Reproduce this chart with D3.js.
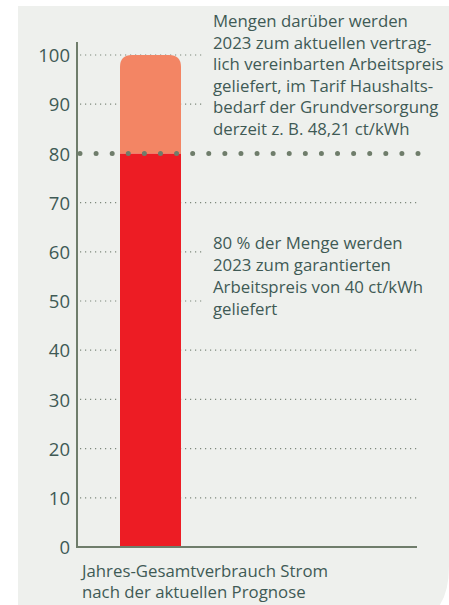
<!DOCTYPE html>
<html>
<head>
<meta charset="utf-8">
<script src="https://cdn.jsdelivr.net/npm/d3@7"></script>
<style>
  body { margin: 0; background: #fff; }
  svg { display: block; font-family: "Open Sans", "Noto Sans", sans-serif; }
</style>
</head>
<body>
<svg></svg>
<script>
var width = 449;
var height = 605;

// data
var categories = ["Jahres-Gesamtverbrauch Strom"];
var garantiert = [80];   // Anteil zum garantierten Arbeitspreis
var darueber = [20];     // Mengen darueber
var tickValues = [0, 10, 20, 30, 40, 50, 60, 70, 80, 90, 100];
var fullGrid = [10, 20, 30, 40, 70];   // Linien bis zum rechten Rand
var shortGrid = [50, 60, 90, 100];     // Linien enden vor dem Text
var noteTop = ["Mengen darüber werden", "2023 zum aktuellen vertrag-", "lich vereinbarten Arbeitspreis",
  "geliefert, im Tarif Haushalts-", "bedarf der Grundversorgung", "derzeit z. B. 48,21 ct/kWh"];
var noteMid = ["80 % der Menge werden", "2023 zum garantierten", "Arbeitspreis von 40 ct/kWh", "geliefert"];
var xLabel = ["Jahres-Gesamtverbrauch Strom", "nach der aktuellen Prognose"];

var textColor = "#3f5a55";
var axisColor = "#6f7d6b";

var svg = d3.select("svg")
    .attr("width", width)
    .attr("height", height);

// panel background, only the bottom right corner is rounded
svg.append("path")
    .attr("d", "M18,6H449V566Q449,598 434,612H18Z")
    .attr("fill", "#eef0ed");

var left = 77, right = 417, bottom = 547;

var yScale = d3.scaleLinear()
    .domain([0, 100])
    .range([bottom, bottom - 492]);

var xScale = d3.scaleBand()
    .domain(categories)
    .range([left, 224])
    .paddingInner(0)
    .paddingOuter(0.705);

// grid lines
svg.selectAll(".grid")
    .data(fullGrid.map(d => ({v: d, x2: 418})).concat(shortGrid.map(d => ({v: d, x2: 205}))))
    .enter()
    .append("line")
        .attr("x1", left + 3)
        .attr("x2", d => d.x2)
        .attr("y1", d => yScale(d.v))
        .attr("y2", d => yScale(d.v))
        .attr("stroke", "#7d887c")
        .attr("stroke-width", 1.2)
        .attr("stroke-dasharray", "1.2 3.8");

// bars
var bw = xScale.bandwidth();
var r = 12;
svg.selectAll(".bar-low")
    .data(categories)
    .enter()
    .append("rect")
        .attr("x", d => xScale(d))
        .attr("y", (d, i) => yScale(garantiert[i]))
        .attr("width", bw)
        .attr("height", (d, i) => yScale(0) - yScale(garantiert[i]))
        .attr("fill", "#ed1c24");

svg.selectAll(".bar-high")
    .data(categories)
    .enter()
    .append("path")
        .attr("fill", "#f38564")
        .attr("d", (d, i) => {
            var x0 = xScale(d), x1 = x0 + bw;
            var yb = yScale(garantiert[i]);
            var yt = yScale(garantiert[i] + darueber[i]);
            return "M" + x0 + "," + yb + "V" + (yt + r) + "Q" + x0 + "," + yt + " " + (x0 + r) + "," + yt +
                "H" + (x1 - r) + "Q" + x1 + "," + yt + " " + x1 + "," + (yt + r) + "V" + yb + "Z";
        });

// 80 % line with big dots
svg.append("line")
    .attr("x1", 80)
    .attr("x2", 419)
    .attr("y1", yScale(80))
    .attr("y2", yScale(80))
    .attr("stroke", axisColor)
    .attr("stroke-width", 5)
    .attr("stroke-linecap", "round")
    .attr("stroke-dasharray", "0 16.095");

// y axis
var yAxis = d3.axisLeft(yScale)
    .tickValues(tickValues)
    .tickSize(0)
    .tickPadding(7);

var gy = svg.append("g")
    .attr("transform", "translate(" + left + ",0)")
    .call(yAxis);
gy.select(".domain").remove();
gy.selectAll("text")
    .attr("fill", textColor)
    .attr("dy", "0.36em")
    .style("font-size", "18.5px")
    .style("font-family", "'Open Sans', sans-serif");

svg.append("line")
    .attr("x1", left).attr("x2", left)
    .attr("y1", 42).attr("y2", bottom + 1)
    .attr("stroke", axisColor)
    .attr("stroke-width", 2);

svg.append("line")
    .attr("x1", left).attr("x2", right)
    .attr("y1", bottom).attr("y2", bottom)
    .attr("stroke", axisColor)
    .attr("stroke-width", 2);

// annotations
function block(lines, x, y0, lh) {
    svg.append("text")
        .attr("x", x)
        .attr("y", y0)
        .attr("fill", textColor)
        .style("font-size", "16.8px")
        .selectAll("tspan")
        .data(lines)
        .enter()
        .append("tspan")
            .attr("x", x)
            .attr("y", (d, i) => y0 + i * lh)
            .text(d => d);
}
block(noteTop, 213, 27, 21.5);
block(noteMid, 213, 249, 22);
block(xLabel, 82, 576.5, 21.5);
</script>
</body>
</html>
